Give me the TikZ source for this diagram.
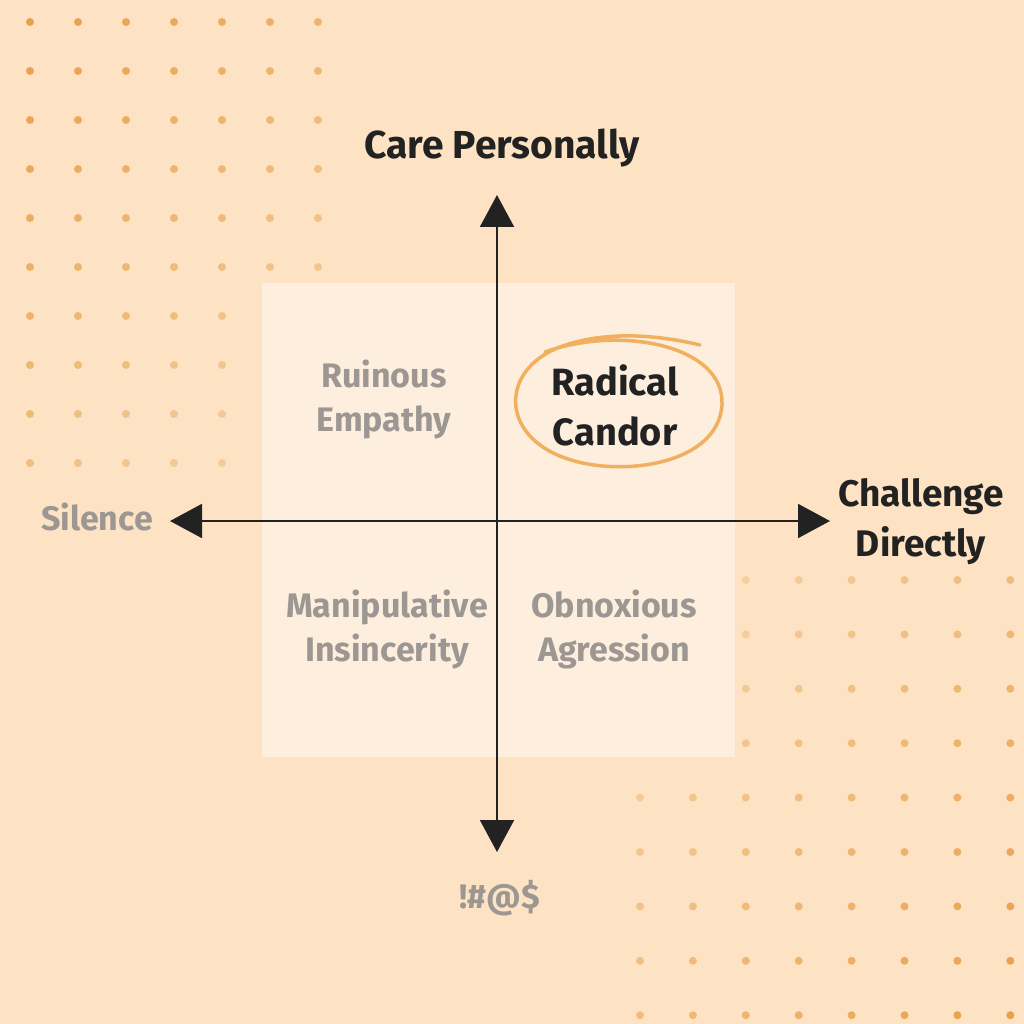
\documentclass[tikz,border=0pt]{standalone}
\usepackage{fontspec}
\setmainfont{Fira Sans}
\usetikzlibrary{arrows.meta}
\definecolor{bg}{HTML}{FDE3C4}
\definecolor{dot}{HTML}{E8A04A}
\definecolor{sq}{HTML}{FDEEDD}
\definecolor{ring}{HTML}{F0B060}
\definecolor{gtxt}{HTML}{9C9793}
\definecolor{dtxt}{HTML}{222222}
\begin{document}
\begin{tikzpicture}[x=1pt,y=-1pt,
  ax/.style={line width=2pt,dtxt,-{Triangle[length=32pt,width=34pt]}},
  quad/.style={font=\fontsize{34}{44}\selectfont\bfseries,text=gtxt,align=center},
  head/.style={font=\fontsize{39}{50}\selectfont\bfseries,text=dtxt,align=center}]
\fill[bg] (0,0) rectangle (1024,1024);
\useasboundingbox (0,0) rectangle (1024,1024);
\foreach \i in {0,...,6}{\foreach \j in {0,...,9}{
  \pgfmathsetmacro{\op}{max(0.2,1-0.05*\i-0.05*\j)}
  \fill[dot,opacity=\op] (30+48*\i,22+49*\j) circle (4);}}
\foreach \i in {0,...,7}{\foreach \j in {0,...,8}{
  \pgfmathsetmacro{\op}{max(0.2,1-0.06*(7-\i)-0.05*(8-\j))}
  \fill[dot,opacity=\op] (640+52.9*\i,580+54.4*\j) circle (4);}}
\fill[sq] (262,283) rectangle (735,757);
\coordinate (t) at (497,195); \coordinate (b) at (497,852);
\coordinate (l) at (170,521); \coordinate (r) at (830,521);
\coordinate (c) at (497,521);
\draw[ax] (c) -- (t); \draw[ax] (c) -- (b);
\draw[ax] (c) -- (l); \draw[ax] (c) -- (r);
\draw[ring,line width=3.5pt,line cap=round] (545,352) .. controls (620,325) and (725,345) .. (722,405) .. controls (718,465) and (620,478) .. (565,458) .. controls (500,435) and (500,370) .. (560,347) .. controls (600,332) and (650,333) .. (700,345);
\node[head] (cp) at (502,148) {Care Personally};
\node[head,font=\fontsize{37}{50}\selectfont\bfseries] (cd) at (921,522) {Challenge\\Directly};
\node[quad] (si) at (97,517) {Silence};
\node[quad] (sw) at (500,898) {!\#@\$};
\node[quad] (re) at (384,399) {Ruinous\\Empathy};
\node[quad,text=dtxt,font=\fontsize{38}{50}\selectfont\bfseries] (rc) at (615,405) {Radical\\Candor};
\node[quad] (mi) at (387,629) {Manipulative\\Insincerity};
\node[quad] (oa) at (614,629) {Obnoxious\\Agression};
\end{tikzpicture}
\end{document}
